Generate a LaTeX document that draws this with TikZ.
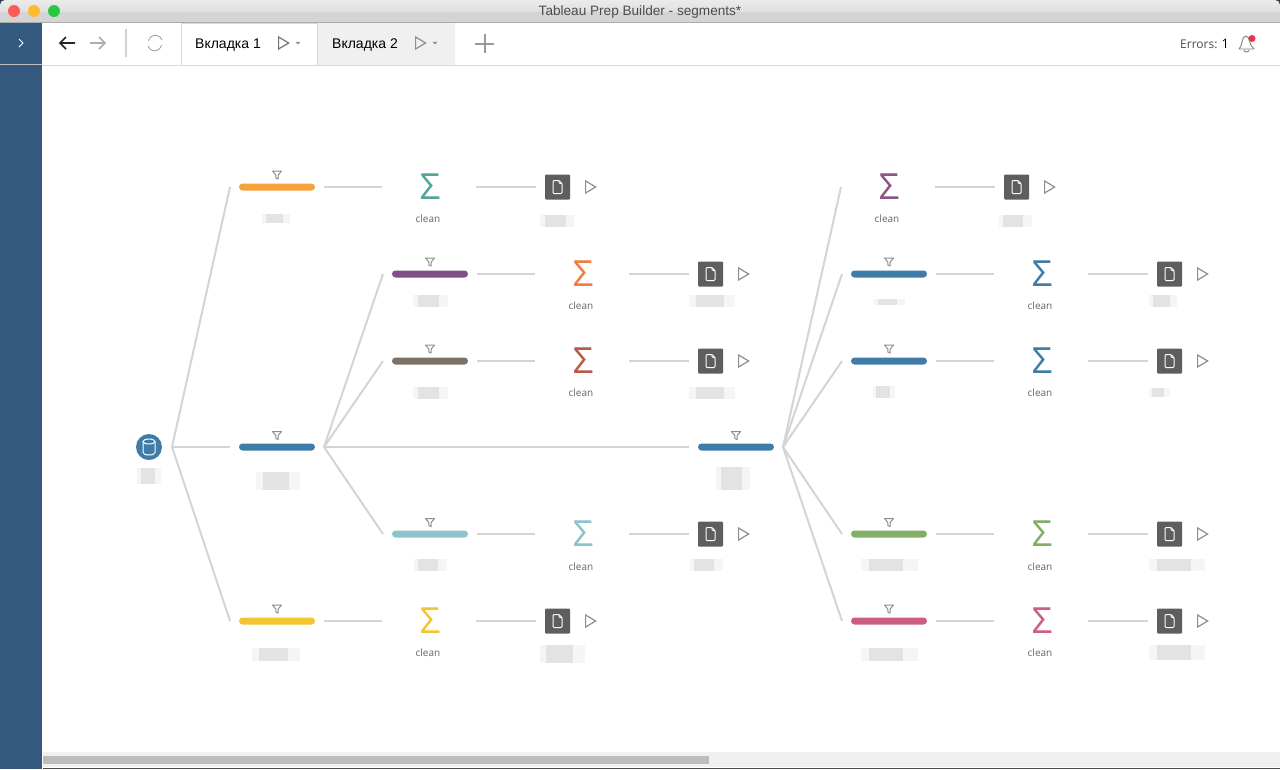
\documentclass[tikz,border=0pt]{standalone}
\usepackage{fontspec}
\setmainfont{Liberation Sans}
\newfontfamily\openfont{Open Sans}
\usetikzlibrary{shapes.geometric}
\definecolor{sidebar}{HTML}{34597F}
\definecolor{linegray}{HTML}{D4D4D4}
\definecolor{icongray}{HTML}{8E8E8E}
\definecolor{docgray}{HTML}{5E5E5E}
\definecolor{barorange}{HTML}{F8A13A}
\definecolor{barpurple}{HTML}{7F4F85}
\definecolor{barbrown}{HTML}{7B7267}
\definecolor{barblue}{HTML}{3F7CA8}
\definecolor{barteal}{HTML}{8CC3CC}
\definecolor{baryellow}{HTML}{F1C62F}
\definecolor{bargreen}{HTML}{82AE66}
\definecolor{barpink}{HTML}{CC5E80}
\definecolor{sumteal}{HTML}{4FA69B}
\definecolor{sumplum}{HTML}{8C5586}
\definecolor{sumorange}{HTML}{F07D3F}
\definecolor{sumred}{HTML}{B85A4A}
\definecolor{btnred}{HTML}{FC5B57}
\definecolor{btnyellow}{HTML}{FDBB2E}
\definecolor{btngreen}{HTML}{28C840}
\definecolor{alertred}{HTML}{E8364A}
\newcommand{\sumglyph}{\kern2pt\raisebox{-1pt}{Σ}}
\tikzset{
  bar/.style={rectangle,rounded corners=3.5pt,minimum width=76pt,minimum height=7pt,
    inner sep=0pt,outer xsep=9pt,outer ysep=0pt},
  sum/.style={rectangle,minimum width=94pt,minimum height=30pt,inner sep=0pt,outer sep=0pt,
    font=\openfont\fontsize{36}{36}\selectfont},
  cleantext/.style={inner sep=0pt,text=black!60,font=\openfont\fontsize{10}{10}\selectfont},
  doc/.style={rectangle,fill=docgray,rounded corners=1pt,minimum size=25pt,inner sep=0pt,outer sep=9pt,
    path picture={
      \begin{scope}[shift={(path picture bounding box.center)}]
        \draw[white,line width=1pt,line join=round] (-4.5,-6.5) -- (1.5,-6.5) -- (4.5,-3.5) -- (4.5,6.5) -- (-4.5,6.5) -- cycle;
        \draw[white,line width=.8pt] (1.5,-6.5) -- (1.5,-3.5) -- (4.5,-3.5);
      \end{scope}}},
  play/.style={isosceles triangle,isosceles triangle apex angle=62,draw=icongray,line width=1.2pt,
    minimum height=10pt,inner sep=0pt,outer sep=0pt},
  line/.style={draw=linegray,line width=2pt},
  smudge/.style 2 args={rectangle,fill=black!4,minimum width=#1pt,minimum height=#2pt,inner sep=0pt,
    path picture={\fill[black!11] ([xshift=.15*#1 pt]path picture bounding box.north west)
      rectangle ([xshift=-.25*#1 pt]path picture bounding box.south east);}},
  tabtext/.style={inner sep=0pt,anchor=west,font=\fontsize{14}{14}\selectfont},
  btn/.style={circle,minimum size=12pt,inner sep=0pt},
  funnel/.pic={
    \draw[icongray,line width=1pt,line join=round] (-4.5,-4) -- (4.5,-4) -- (1.2,0) -- (1.2,4) -- (-1.2,3) -- (-1.2,0) -- cycle;},
  caret/.pic={\fill[icongray] (-2.5,-1.2) -- (2.5,-1.2) -- (0,1.5) -- cycle;}
}
\begin{document}
\begin{tikzpicture}[x=1pt,y=-1pt]
  \useasboundingbox (0,0) rectangle (1280,769);
  \fill[white] (0,0) rectangle (1280,769);
  \fill[sidebar!70!black] (0,0) rectangle (1280,8);
  \shade[top color=black!8,bottom color=black!17,rounded corners=5pt] (0,0) rectangle (1280,24);
  \fill[black!17] (0,12) rectangle (1280,22);
  \fill[white] (0,22) rectangle (1280,65);
  \draw[black!32,line width=1pt] (0,22) -- (1280,22);
  \draw[black!15,line width=1pt] (42,65) -- (1280,65);
  \fill[sidebar] (0,22.5) rectangle (42,769);
  \draw[black!25,line width=1pt] (0,64.5) -- (42,64.5);
  \fill[black!6] (43,752) rectangle (1280,767);
  \fill[black!26] (43,756) rectangle (709,764);
  \fill[black!70] (43,767.5) rectangle (1280,769);

  \node[btn,fill=btnred] (closebtn) at (14,11) {};
  \node[btn,fill=btnyellow] (minbtn) at (34,11) {};
  \node[btn,fill=btngreen] (maxbtn) at (54,11) {};
  \node[inner sep=0pt,text=black!70,font=\fontsize{13.6}{14}\selectfont] (title) at (640,11.5) {Tableau Prep Builder - segments*};

  \draw[white,line width=1pt] (19,39) -- (23,43) -- (19,47);
  \draw[black!85,line width=1.6pt] (75,43) -- (60,43) (66,37) -- (60,43) -- (66,49);
  \draw[black!32,line width=1.6pt] (90,43) -- (105,43) (99,37) -- (105,43) -- (99,49);
  \draw[black!18,line width=1.5pt] (126,29) -- (126,57);
  \draw[black!35,line width=.9pt] (148.5,41) arc (190:340:7);
  \draw[black!35,line width=.9pt] (161.5,45) arc (10:160:7);

  \fill[black!6] (318,23) rectangle (455,65);
  \draw[black!15,line width=1pt] (181,65) -- (181,23.5) -- (317.5,23.5) -- (317.5,65);
  \node[tabtext] (tab1) at (195,45) {Вкладка 1};
  \node[tabtext] (tab2) at (332,45) {Вкладка 2};
  \node[play,draw=black!55] (tab1play) at (282,43) {};
  \node[play,draw=icongray] (tab2play) at (419,43) {};
  \pic at (298,43) {caret};
  \pic at (435,43) {caret};
  \draw[black!40,line width=2pt] (475,43.5) -- (494,43.5) (484.5,34) -- (484.5,53);
  \node[inner sep=0pt,anchor=west,text=black!70,font=\openfont\fontsize{12}{12}\selectfont] (errors) at (1180,44) {Errors: {\fontsize{13}{13}\selectfont\textcolor{black}{1}}};
  \draw[black!50,line width=.9pt,line join=round] (1239,49) .. controls (1243,46) and (1241,36) .. (1246,36) .. controls (1250,36) and (1249,46) .. (1254,49) -- cycle;
  \draw[black!50,line width=.9pt] (1244,50) arc (180:0:2.5 and 2);
  \node[circle,fill=alertred,minimum size=7pt,inner sep=0pt] (alert) at (1252,38.5) {};

  \node[circle,fill=barblue,minimum size=26pt,inner sep=0pt,outer sep=10pt,
    path picture={
      \begin{scope}[shift={(path picture bounding box.center)}]
        \draw[white,line width=1pt] (-6,-5.5) -- (-6,5.5) arc (180:0:6 and 2.5) -- (6,-5.5);
        \draw[white,line width=1pt] (0,-5.5) circle (6 and 2.5);
      \end{scope}}] (src) at (149,447) {};

  \node[bar,fill=barorange] (b1) at (277,187) {};
  \node[bar,fill=barblue] (b2) at (277,447) {};
  \node[bar,fill=baryellow] (b3) at (277,621) {};
  \node[bar,fill=barpurple] (b4) at (430,274) {};
  \node[bar,fill=barbrown] (b5) at (430,361) {};
  \node[bar,fill=barteal] (b6) at (430,534) {};
  \node[bar,fill=barblue] (b7) at (736,447) {};
  \node[bar,fill=barblue] (b8) at (889,274) {};
  \node[bar,fill=barblue] (b9) at (889,361) {};
  \node[bar,fill=bargreen] (b10) at (889,534) {};
  \node[bar,fill=barpink] (b11) at (889,621) {};

  \pic at (277,175) {funnel};
  \pic at (277,435.5) {funnel};
  \pic at (277,609) {funnel};
  \pic at (430,262) {funnel};
  \pic at (430,349) {funnel};
  \pic at (430,522.5) {funnel};
  \pic at (736,435.5) {funnel};
  \pic at (889,262) {funnel};
  \pic at (889,349) {funnel};
  \pic at (889,522.5) {funnel};
  \pic at (889,609) {funnel};

  \node[sum,text=sumteal] (s1) at (429,187) {\sumglyph};
  \node[sum,text=baryellow] (s2) at (429,621) {\sumglyph};
  \node[sum,text=sumorange] (s3) at (582,274) {\sumglyph};
  \node[sum,text=sumred] (s4) at (582,361) {\sumglyph};
  \node[sum,text=barteal] (s5) at (582,534) {\sumglyph};
  \node[sum,text=sumplum] (s6) at (888,187) {\sumglyph};
  \node[sum,text=barblue] (s7) at (1041,274) {\sumglyph};
  \node[sum,text=barblue] (s8) at (1041,361) {\sumglyph};
  \node[sum,text=bargreen] (s9) at (1041,534) {\sumglyph};
  \node[sum,text=barpink] (s10) at (1041,621) {\sumglyph};

  \node[cleantext] (c1) at (428,219) {clean};
  \node[cleantext] (c2) at (428,653) {clean};
  \node[cleantext] (c3) at (581,306) {clean};
  \node[cleantext] (c4) at (581,393) {clean};
  \node[cleantext] (c5) at (581,567) {clean};
  \node[cleantext] (c6) at (887,219) {clean};
  \node[cleantext] (c7) at (1040,306) {clean};
  \node[cleantext] (c8) at (1040,393) {clean};
  \node[cleantext] (c9) at (1040,567) {clean};
  \node[cleantext] (c10) at (1040,653) {clean};

  \node[doc] (d1) at (557.5,187) {};
  \node[doc] (d2) at (557.5,621) {};
  \node[doc] (d3) at (710.5,274) {};
  \node[doc] (d4) at (710.5,361) {};
  \node[doc] (d5) at (710.5,534) {};
  \node[doc] (d6) at (1016.5,187) {};
  \node[doc] (d7) at (1169.5,274) {};
  \node[doc] (d8) at (1169.5,361) {};
  \node[doc] (d9) at (1169.5,534) {};
  \node[doc] (d10) at (1169.5,621) {};

  \node[play] (p1) at (589,187) {};
  \node[play] (p2) at (589,621) {};
  \node[play] (p3) at (742,274) {};
  \node[play] (p4) at (742,361) {};
  \node[play] (p5) at (742,534) {};
  \node[play] (p6) at (1048,187) {};
  \node[play] (p7) at (1201,274) {};
  \node[play] (p8) at (1201,361) {};
  \node[play] (p9) at (1201,534) {};
  \node[play] (p10) at (1201,621) {};

  \node[smudge={24}{16}] (t0) at (149,476) {};
  \node[smudge={28}{9}] (t1) at (276,218) {};
  \node[smudge={44}{18}] (t2) at (278,481) {};
  \node[smudge={48}{13}] (t3) at (276,654) {};
  \node[smudge={35}{12}] (t4) at (430,301) {};
  \node[smudge={35}{12}] (t5) at (430,393) {};
  \node[smudge={33}{12}] (t6) at (430,565) {};
  \node[smudge={34}{23}] (t7) at (733,478) {};
  \node[smudge={34}{12}] (t8) at (557,221) {};
  \node[smudge={45}{18}] (t9) at (562,654) {};
  \node[smudge={46}{12}] (t10) at (712,301) {};
  \node[smudge={46}{12}] (t11) at (712,393) {};
  \node[smudge={33}{12}] (t12) at (706,565) {};
  \node[smudge={33}{12}] (t13) at (1015,221) {};
  \node[smudge={32}{6}] (t14) at (889,302) {};
  \node[smudge={22}{12}] (t15) at (884,392) {};
  \node[smudge={57}{12}] (t16) at (889,565) {};
  \node[smudge={57}{13}] (t17) at (889,654) {};
  \node[smudge={28}{12}] (t18) at (1163,301) {};
  \node[smudge={21}{9}] (t19) at (1159,392) {};
  \node[smudge={56}{12}] (t20) at (1177,565) {};
  \node[smudge={56}{15}] (t21) at (1177,652) {};

  \draw[line] (src.east) -- (b1.west);
  \draw[line] (src.east) -- (b2.west);
  \draw[line] (src.east) -- (b3.west);
  \draw[line] (b2.east) -- (b4.west);
  \draw[line] (b2.east) -- (b5.west);
  \draw[line] (b2.east) -- (b6.west);
  \draw[line] (b2.east) -- (b7.west);
  \draw[line] (b7.east) -- (s6.west);
  \draw[line] (b7.east) -- (b8.west);
  \draw[line] (b7.east) -- (b9.west);
  \draw[line] (b7.east) -- (b10.west);
  \draw[line] (b7.east) -- (b11.west);
  \draw[line] (b1.east) -- (s1.west);
  \draw[line] (b3.east) -- (s2.west);
  \draw[line] (b4.east) -- (s3.west);
  \draw[line] (b5.east) -- (s4.west);
  \draw[line] (b6.east) -- (s5.west);
  \draw[line] (b8.east) -- (s7.west);
  \draw[line] (b9.east) -- (s8.west);
  \draw[line] (b10.east) -- (s9.west);
  \draw[line] (b11.east) -- (s10.west);
  \draw[line] (s1.east) -- (d1.west);
  \draw[line] (s2.east) -- (d2.west);
  \draw[line] (s3.east) -- (d3.west);
  \draw[line] (s4.east) -- (d4.west);
  \draw[line] (s5.east) -- (d5.west);
  \draw[line] (s6.east) -- (d6.west);
  \draw[line] (s7.east) -- (d7.west);
  \draw[line] (s8.east) -- (d8.west);
  \draw[line] (s9.east) -- (d9.west);
  \draw[line] (s10.east) -- (d10.west);
\end{tikzpicture}
\end{document}
